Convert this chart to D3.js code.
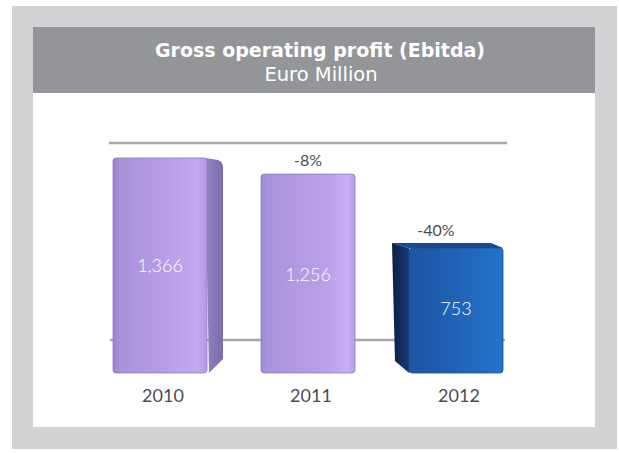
<!DOCTYPE html>
<html>
<head>
<meta charset="utf-8">
<script src="https://cdn.jsdelivr.net/npm/d3@7"></script>
<style>
  html, body { margin: 0; padding: 0; background: #ffffff; }
  svg { display: block; }
</style>
</head>
<body>
<svg id="chart" width="619" height="453"></svg>
<script>
// Gross operating profit (Ebitda), Euro Million
const years = ["2010", "2011", "2012"];
const ebitda = [1366, 1256, 753];
const changeLabels = [null, "-8%", "-40%"];
const valueLabels = ["1,366", "1,256", "753"];
const wallTicks = [0, 1500];

const title = "Gross operating profit (Ebitda)";
const subtitle = "Euro Million";

const svg = d3.select("#chart");
const font = "Lato, 'Open Sans', sans-serif";
const headFont = "'DejaVu Sans', sans-serif";

// frame: grey mat, dark header band, white plot panel
svg.append("rect").attr("x", 12).attr("y", 6).attr("width", 605).attr("height", 443).attr("fill", "#d1d2d4");
svg.append("rect").attr("x", 33).attr("y", 27).attr("width", 562).attr("height", 66).attr("fill", "#939598");
svg.append("rect").attr("x", 33).attr("y", 93).attr("width", 562).attr("height", 334).attr("fill", "#ffffff");

svg.append("text").attr("x", 320).attr("y", 57).attr("text-anchor", "middle")
  .attr("font-family", headFont).attr("font-weight", 700).attr("font-size", 19)
  .attr("fill", "#ffffff").text(title);
svg.append("text").attr("x", 321).attr("y", 81).attr("text-anchor", "middle")
  .attr("font-family", headFont).attr("font-weight", 400).attr("font-size", 19.5)
  .attr("fill", "#ffffff").text(subtitle);

// scales: x gives the centre of each bar's front face
const x = d3.scalePoint().domain(years).range([160, 456]);
const frontW = 94;
const side = 16; // width of the visible side face
const y = d3.scaleLinear().domain([0, 1500]).range([358.5, 138.3]);
const yWall = d3.scaleLinear().domain([0, 1500]).range([340, 143]);
const depth = 14.5; // front face reaches below the floor line

// back-wall lines
svg.append("g").selectAll("line").data(wallTicks).join("line")
  .attr("x1", (d, i) => i ? 109 : 110).attr("x2", (d, i) => i ? 507 : 505)
  .attr("y1", d => yWall(d)).attr("y2", d => yWall(d))
  .attr("stroke", "#a9a9a9").attr("stroke-width", 2.5);

// gradients
const defs = svg.append("defs");
function grad(id, stops) {
  const g = defs.append("linearGradient").attr("id", id).attr("x1", 0).attr("x2", 1).attr("y1", 0).attr("y2", 0);
  stops.forEach(([o, c]) => g.append("stop").attr("offset", o).attr("stop-color", c));
}
grad("purpleFront", [[0, "#9d86cf"], [0.08, "#a892d9"], [0.6, "#b8a0e8"], [0.9, "#c2a9f0"], [1, "#b29ae2"]]);
grad("purpleSide", [[0, "#9682c4"], [1, "#7a6baa"]]);
grad("purpleFrontMid", [[0, "#9c86cf"], [0.06, "#a892d9"], [0.75, "#bba3ec"], [0.92, "#c9b0f8"], [1, "#b39ce6"]]);
grad("blueFront", [[0, "#1c559f"], [0.5, "#1f63b6"], [1, "#2572cc"]]);
grad("blueSide", [[0, "#0c1f45"], [1, "#173a72"]]);

const blurF = defs.append("filter").attr("id", "soft").attr("x", "-10%").attr("y", "-10%").attr("width", "120%").attr("height", "120%");
blurF.append("feGaussianBlur").attr("stdDeviation", 0.6);

const bars = svg.append("g").selectAll("g").data(years).join("g");

bars.each(function (yr, i) {
  const g = d3.select(this);
  const v = ebitda[i];
  const fx0 = x(yr) - frontW / 2, fx1 = x(yr) + frontW / 2;
  const top = y(v), bottom = y(0) + depth;
  if (i === 0) {
    // side face on the right
    g.append("path").attr("filter", "url(#soft)")
      .attr("d", `M${fx1 - 2},${top} L${fx1 + side - 5},${top + 2} Q${fx1 + side},${top + 4} ${fx1 + side},${top + 9} L${fx1 + side},${bottom - 14} L${fx1 + 2},${bottom} Z`)
      .attr("fill", "url(#purpleSide)");
    g.append("rect").attr("x", fx0).attr("y", top).attr("width", frontW).attr("height", bottom - top)
      .attr("rx", 3).attr("fill", "url(#purpleFront)").attr("stroke", "#8d7bbd").attr("stroke-width", 0.8);
  } else if (i === 1) {
    g.append("rect").attr("x", fx0).attr("y", top).attr("width", frontW).attr("height", bottom - top)
      .attr("rx", 3).attr("fill", "url(#purpleFrontMid)").attr("stroke", "#8d7bbd").attr("stroke-width", 0.8);
  } else {
    // side face on the left, thin top face
    const sx = fx0 - side - 1;
    g.append("path").attr("filter", "url(#soft)")
      .attr("d", `M${sx},${top - 5} L${fx1 - 12},${top - 5} L${fx1},${top} L${fx0},${top} Z`)
      .attr("fill", "#1b4a8e");
    g.append("path").attr("filter", "url(#soft)")
      .attr("d", `M${sx},${top - 5} L${fx0},${top} L${fx0},${bottom} L${sx + 3},${bottom - 12} Z`)
      .attr("fill", "url(#blueSide)");
    g.append("rect").attr("x", fx0).attr("y", top).attr("width", frontW).attr("height", bottom - top)
      .attr("rx", 3).attr("fill", "url(#blueFront)").attr("stroke", "#174c92").attr("stroke-width", 0.8);
  }
});

// value labels centred on the front face
svg.append("g").selectAll("text").data(valueLabels).join("text")
  .attr("x", (d, i) => x(years[i]))
  .attr("y", (d, i) => (y(ebitda[i]) + y(0) + depth) / 2 + (i === 2 ? 5 : 7))
  .attr("text-anchor", "middle").attr("font-family", font).attr("font-weight", 300)
  .attr("font-size", 18).attr("fill", "#ffffff").text(d => d);

// year-on-year change above the bars
svg.append("g").selectAll("text").data(changeLabels.map((c, i) => ({ c, i })).filter(d => d.c))
  .join("text")
  .attr("x", d => d.i === 2 ? x(years[d.i]) - 20 : x(years[d.i]))
  .attr("y", d => y(ebitda[d.i]) - (d.i === 2 ? 12 : 8))
  .attr("text-anchor", "middle").attr("font-family", font).attr("font-weight", 400)
  .attr("font-size", 16).attr("fill", "#4d4d4d").text(d => d.c);

// category labels
svg.append("g").selectAll("text").data(years).join("text")
  .attr("x", d => x(d) + 3)
  .attr("y", 402)
  .attr("text-anchor", "middle").attr("font-family", font).attr("font-weight", 400)
  .attr("font-size", 18).attr("fill", "#4d4d4d").text(d => d);
</script>
</body>
</html>
